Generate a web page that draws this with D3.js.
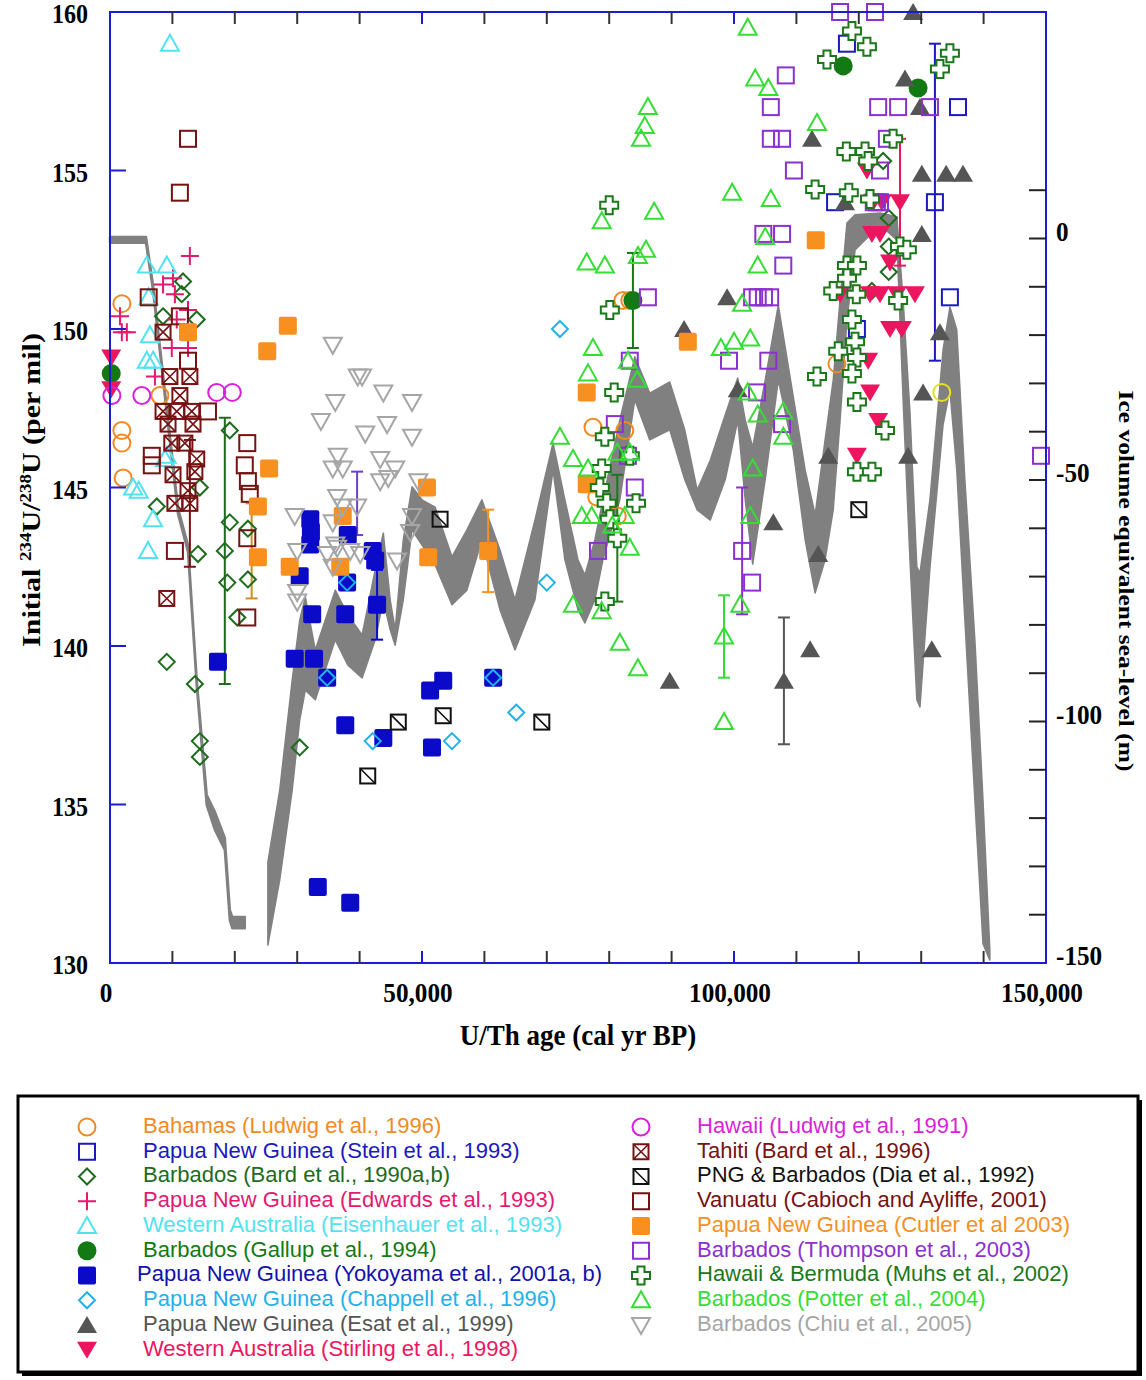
<!DOCTYPE html>
<html lang="en">
<head>
  <meta charset="UTF-8">
  <title>Initial 234U/238U vs U/Th age</title>
  <script src="https://d3js.org/d3.v7.min.js"></script>
  <style>
    body { margin: 0; background: #fff; }
    svg { display: block; }
    .tick-lab { font-family: "Liberation Serif", "Times New Roman", serif; font-weight: bold; fill: #000; }
    .ax-title { font-family: "Liberation Serif", "Times New Roman", serif; font-weight: bold; fill: #000; }
    .leg { font-family: "Liberation Sans", Arial, sans-serif; font-size: 22px; }
  </style>
</head>
<body>
<script>
// sea-level band (kyr BP, metres): upper and lower estimate
const band1Age = [0, 5.77, 6.89, 10.9, 12.5, 13.9, 15.5, 16.8, 18.4, 19.2, 19.6, 21.6];
const band1Hi  = [0.3, 0.3, -9.6, -55.8, -63.5, -91.4, -115.2, -118.7, -124.1, -139.0, -140.5, -140.5];
const band1Lo  = [-0.9, -0.9, -10.7, -57.0, -64.9, -92.6, -117.3, -122.4, -126.6, -141.1, -142.8, -142.8];

const band2Age = [25.3, 27.2, 29.2, 30.4, 31.3, 32.9, 36.1, 38.1, 40.4, 42.5, 43.8, 44.9, 45.7, 47.0, 48.4, 50.0, 52.1, 54.8,
  57.2, 59.6, 62.5, 64.9, 68.1, 71.0, 72.9, 75.0, 76.1, 77.7, 79.0, 81.7, 84.1, 86.5, 89.7, 92.1, 94.1, 96.2, 98.6,
  100.6, 101.8, 103.0, 105.0, 107.1, 109.5, 111.4, 113.0, 114.6, 115.9, 117.0, 118.1, 119.4, 123.4, 126.1, 127.1,
  128.2, 129.3, 129.8, 131.4, 133.5, 134.6, 135.7, 137.0, 138.6, 139.9, 141.0];
const band2Hi = [-129.1, -114.2, -91.4, -79.0, -74.2, -85.2, -72.8, -77.9, -82.1, -68.6, -61.0, -74.8, -81.0, -62.4, -51.4, -54.1, -55.6, -65.9,
  -60.3, -54.1, -64.5, -74.8, -58.3, -42.3, -54.1, -66.5, -69.7, -62.4, -54.1, -37.6, -24.5, -32.0, -29.7, -39.6, -52.1, -45.9, -36.5,
  -28.9, -37.6, -43.2, -29.3, -13.8, -32.8, -47.9, -57.2, -41.7, -29.3, -12.7, 3.2, 4.9, 5.3, 4.5, -12.7,
  -36.1, -68.0, -69.3, -54.1, -23.1, -14.2, -18.9, -50.0, -83.1, -116.2, -147.3];
const band2Lo = [-146.3, -132.8, -114.2, -99.7, -93.5, -95.5, -83.1, -88.3, -91.0, -83.1, -74.8, -81.0, -84.2, -74.8, -60.3, -63.5, -67.6, -75.8,
  -72.8, -62.4, -76.9, -85.2, -74.8, -47.9, -66.5, -76.9, -79.6, -74.8, -66.5, -54.1, -33.4, -41.7, -39.6, -49.9, -56.2, -58.3, -49.9,
  -37.6, -54.1, -67.4, -49.9, -29.3, -43.8, -62.4, -73.4, -66.5, -56.2, -37.6, -16.9, -2.4, 2.8, -0.3, -33.4,
  -66.5, -95.5, -97.0, -68.2, -38.6, -31.4, -47.9, -79.0, -116.2, -146.0, -149.4];

// data points: [age (yr BP), initial d234U (per mil), optional error]
const bahamas = [[1900,150.8],[1900,146.8],[1900,146.4],[2100,145.3],[8000,147.9],[82200,150.9],[83300,150.9],
  [77400,146.9],[82500,146.8],[78000,144.7],[81300,144.1],[116500,148.9]];
const bahamasExtra = [[133300,148.0]];
const stein = [[118100,159.0],[135900,157.0],[132200,154.0,5],[116200,154.0],[134600,151.0],[119700,150.0]];
const bard90 = [[11700,151.5],[11500,151.1],[8500,150.4],[13900,150.3],[19200,146.8],[14400,145.0],[7500,144.4],
  [19200,143.9],[22100,143.7],[14100,142.9],[18400,143.0,4.2],[18800,142.0],[22100,142.1],[20400,140.9],[9100,139.5],
  [13600,138.8],[14400,137.0],[14400,136.5],[30400,136.8],[123900,155.3],[124800,153.5],[124800,152.6],[124800,151.8],[122100,151.2]];
const edwards = [[12800,152.3],[10100,151.6],[8500,151.4],[10400,151.1],[12500,150.6],[10700,150.3],[1600,150.4],
  [1900,149.9],[2700,149.9],[12500,149.4],[9900,149.4],[7200,148.5]];
const eisenhauer = [[9600,159.0],[5900,152.0],[9100,152.0],[6200,151.0],[5900,149.0],[6900,149.0],[6400,149.8],
  [3700,145.0],[4600,144.9],[6900,144.0],[6100,143.0],[9100,146.0],[8800,145.9]];
const gallup = [[200,148.6],[117500,158.3],[129500,157.6],[83800,150.9,1.5]];
const yokoyama = [[17300,139.5],[29600,139.6],[32700,139.6],[32100,144.0],[32200,143.6],[32100,143.2],[30400,142.2],
  [32400,141.0],[37700,141.0],[38000,142.0],[38100,143.5],[42100,143.0],[42500,142.7],[42800,141.3,1.1],[34800,139.0],
  [37700,137.5],[43800,137.1],[51300,138.6],[53400,138.9],[51600,136.8],[61400,139.0],[33300,132.4],[38500,131.9]];
const chappell = [[34800,139.0],[38000,142.0],[42100,137.0],[54800,137.0],[61400,139.0],[65100,137.9],[70000,142.0],[72100,150.0]];
const esat = [[128700,160.0],[127400,157.9],[129800,157.0],[112500,156.0],[130100,154.9],[134000,154.9],[136700,154.9],
  [117800,154.0],[130100,153.0],[98900,151.0],[133000,149.9],[100600,148.1],[130300,148.0],[92000,150.0],[106300,143.9],
  [115100,146.0],[113500,142.9],[127900,146.0],[112200,139.9],[108000,138.9,2],[131700,139.9],[89700,138.9]];
const stirling = [[200,149.1],[200,148.1],[121300,155.0],[122300,154.0],[123700,154.0],[126600,154.0,2],[122100,153.0],
  [123400,153.0],[125000,152.1],[117000,151.1],[121800,151.1],[123400,151.1],[126100,151.1],[129000,151.1],[125000,150.0],
  [126900,150.0],[121500,149.0],[121800,148.0],[123100,147.1],[119700,146.0]];
const ludwig91 = [[300,147.9],[5100,147.9],[17100,148.0],[19600,148.0]];
const tahiti = [[8500,149.9],[9600,148.5],[12800,148.5],[11200,147.9],[8500,147.4],[10700,147.4],[13100,147.4],[9300,147.0],
  [13300,147.0],[9900,146.4],[12000,146.4],[13900,145.9],[10100,145.4],[13600,145.5],[12500,144.9],[10400,144.5],[12800,144.5,2],[9100,141.5]];
const dia = [[52900,144.0],[53400,137.8],[46200,137.6],[41300,135.9],[69200,137.6],[120000,144.3]];
const vanuatu = [[12500,156.0],[11200,154.3],[6200,151.0],[11200,150.4],[12500,149.0],[15700,147.4],[6700,146.0],[6700,145.7],
  [22000,146.4],[21600,145.7],[22100,145.2],[22400,144.8],[22000,143.4],[10400,143.0],[22000,140.9]];
const cutler = [[12500,149.9],[28500,150.1],[25200,149.3],[25500,145.6],[23700,144.4],[23700,142.8],[28800,142.5],[36900,142.5],
  [37300,144.1],[50800,145.0],[51000,142.8],[60600,143.0,1.3],[76400,148.0],[76400,145.1],[92600,149.6],[113100,152.8]];
const thompson = [[117000,160.0],[122600,160.0],[108300,158.0],[105900,157.0],[123100,157.0],[126300,157.0],[131400,157.0],
  [105900,156.0],[107700,156.0],[124500,156.0],[109600,155.0],[123400,155.0],[122400,154.0],[122900,154.0],[123400,154.0],
  [104700,153.0],[107700,153.0],[107900,152.0],[102900,151.0],[103800,151.0],[104800,151.0],[105800,151.0],[86200,151.0],
  [99200,149.0],[105500,149.0],[103700,148.0],[83300,149.0],[107700,147.0],[80900,147.0],[83000,146.0],[84100,145.0],
  [78200,143.0],[101300,143.0,2],[102900,142.0],[149200,146.0]];
const muhs = [[118900,159.4],[121300,158.9],[114900,158.5],[134600,158.7],[133000,158.2],[125500,156.0],[118000,155.6],
  [121000,155.6],[121500,155.3],[113000,154.4],[118400,154.3],[121800,154.1],[126600,152.6],[127700,152.5],[118100,152.0],
  [119700,152.0],[118100,151.6],[115900,151.2],[119600,151.1],[126300,150.9],[118900,150.3],[119400,149.6],[116700,149.3],
  [119700,149.1],[118900,148.6],[113300,148.5],[119700,147.7],[124200,146.8],[119700,145.5],[122100,145.5],
  [80000,153.9],[80100,150.6],[80800,148.0],[79300,146.6],[78800,145.6],[78500,145.0],[79600,144.5],[84300,144.5],
  [80100,144.0],[81300,143.4,2],[79300,141.4],[83300,146.0]];
const potter = [[102200,159.5],[103400,157.9],[105500,157.6],[113300,156.5],[99700,154.3],[105900,154.1],[105000,152.9],
  [103800,152.0],[101300,150.8],[97900,149.4],[100000,149.6],[102600,149.7],[102200,148.0],[103800,147.3],[107900,147.4],
  [107900,146.6],[103000,145.6],[102600,144.1],[101000,141.3],[98400,140.3,1.3],[98400,137.6],[78800,153.4],[87200,153.7],
  [76400,152.1],[79300,152.0],[85900,152.5],[84600,152.3],[77400,149.4],[76600,148.6],[83000,149.0],[84500,148.4],
  [72100,146.6],[74200,145.9],[76600,145.6],[81300,146.1],[83300,146.1],[75600,144.1],[77200,144.1],[82500,144.1],
  [80500,143.8],[83300,143.1],[74200,141.3],[78800,141.1],[81700,140.1],[84600,139.3],[86200,157.0],[85700,156.4],[85100,156.0]];
const chiu = [[35700,149.5],[39700,148.5],[40400,148.5],[36100,147.7],[43800,148.0],[48400,147.7],[40900,146.7],[44400,147.0],
  [48400,146.6],[33800,147.1],[36500,146.0],[37300,145.6],[35700,145.6],[43300,145.9],[45700,145.6],[44600,145.3],[43300,145.2],
  [49400,145.2],[39600,144.4],[36400,144.7],[37300,144.4],[35700,143.9],[48400,144.1],[48100,143.6],[36400,143.1],[38500,143.0],
  [40100,142.9],[35700,142.5],[46000,142.7],[29600,144.1],[30000,143.0],[30000,141.7],[30000,141.4],[34800,142.9],[36100,143.2]];
// loose error bars without a visible marker
const violetBars = [[39600,144.5,1.0]];
const oliveBars = [[22700,143.0,1.5]];

const xTicks = [0, 50000, 100000, 150000];
const yTicks = [130, 135, 140, 145, 150, 155, 160];
const slTicks = [0, -50, -100, -150];

const W = 1146, H = 1380;
const svg = d3.select('body').append('svg').attr('width', W).attr('height', H);

const x = d3.scaleLinear().domain([0, 150000]).range([110, 1046]);
const y = d3.scaleLinear().domain([130, 160]).range([963, 12]);
const sl = d3.scaleLinear().domain([-150, 0]).range([963, 238.5]);
const xk = d3.scaleLinear().domain([0, 150]).range([110, 1046]);

// band
const bandArea = d3.area().x(d => xk(d[0])).y0(d => sl(d[2])).y1(d => sl(d[1]));
const band1 = band1Age.map((a, i) => [a, band1Hi[i], band1Lo[i]]);
const band2 = band2Age.map((a, i) => [a, band2Hi[i], band2Lo[i]]);
svg.append('path').attr('d', bandArea(band1)).attr('fill', '#808080')
  .attr('stroke', '#808080').attr('stroke-width', 2.5).attr('stroke-linejoin', 'round');
svg.append('path').attr('d', bandArea(band2)).attr('fill', '#808080')
  .attr('stroke', '#808080').attr('stroke-width', 1.5).attr('stroke-linejoin', 'round');

// symbols
function drawSymbol(g, type, c) {
  if (type === 'circle') g.append('circle').attr('r', 8.5).attr('fill', 'none').attr('stroke', c).attr('stroke-width', 2);
  else if (type === 'square') g.append('rect').attr('x', -8).attr('y', -8).attr('width', 16).attr('height', 16)
    .attr('fill', 'none').attr('stroke', c).attr('stroke-width', 2);
  else if (type === 'diamond') g.append('path').attr('d', 'M0,-8L8,0L0,8L-8,0Z').attr('fill', 'none').attr('stroke', c).attr('stroke-width', 2);
  else if (type === 'plus') g.append('path').attr('d', 'M-9,0H9M0,-9V9').attr('stroke', c).attr('stroke-width', 2);
  else if (type === 'tri') g.append('path').attr('d', 'M0,-9L9,7L-9,7Z').attr('fill', 'none').attr('stroke', c).attr('stroke-width', 2);
  else if (type === 'dot') g.append('circle').attr('r', 9.5).attr('fill', c);
  else if (type === 'fsquare') g.append('rect').attr('x', -9).attr('y', -9).attr('width', 18).attr('height', 18).attr('rx', 2).attr('fill', c);
  else if (type === 'ftri') g.append('path').attr('d', 'M0,-9L10,8L-10,8Z').attr('fill', c);
  else if (type === 'ftridown') g.append('path').attr('d', 'M-10,-8L10,-8L0,9Z').attr('fill', c);
  else if (type === 'squareX') {
    g.append('rect').attr('x', -7.5).attr('y', -7.5).attr('width', 15).attr('height', 15).attr('fill', 'none').attr('stroke', c).attr('stroke-width', 2);
    g.append('path').attr('d', 'M-7.5,-7.5L7.5,7.5M7.5,-7.5L-7.5,7.5').attr('stroke', c).attr('stroke-width', 1.6);
  } else if (type === 'squareSlash') {
    g.append('rect').attr('x', -7.5).attr('y', -7.5).attr('width', 15).attr('height', 15).attr('fill', 'none').attr('stroke', c).attr('stroke-width', 2);
    g.append('path').attr('d', 'M-7.5,-7.5L7.5,7.5').attr('stroke', c).attr('stroke-width', 1.6);
  } else if (type === 'cross') g.append('path')
    .attr('d', 'M-3.5,-9H3.5V-3.5H9V3.5H3.5V9H-3.5V3.5H-9V-3.5H-3.5Z')
    .attr('fill', '#fff').attr('stroke', c).attr('stroke-width', 2);
  else if (type === 'tridown') g.append('path').attr('d', 'M-9,-7L9,-7L0,9Z').attr('fill', 'none').attr('stroke', c).attr('stroke-width', 2);
}

const series = [
  { name: 'Bahamas (Ludwig et al., 1996)', data: bahamas, sym: 'circle', color: '#f28a22' },
  { name: 'Papua New Guinea (Stein et al., 1993)', data: stein, sym: 'square', color: '#1a1ac0' },
  { name: 'Barbados (Bard et al., 1990a,b)', data: bard90, sym: 'diamond', color: '#1d6b1d' },
  { name: 'Papua New Guinea (Edwards et al., 1993)', data: edwards, sym: 'plus', color: '#e5196f' },
  { name: 'Western Australia (Eisenhauer et al., 1993)', data: eisenhauer, sym: 'tri', color: '#52e2f0' },
  { name: 'Barbados (Gallup et al., 1994)', data: gallup, sym: 'dot', color: '#137a13' },
  { name: 'Papua New Guinea (Yokoyama et al., 2001a, b)', data: yokoyama, sym: 'fsquare', color: '#0a0ac8', textColor: '#1212aa', dx: -6 },
  { name: 'Papua New Guinea (Chappell et al., 1996)', data: chappell, sym: 'diamond', color: '#22b2ea' },
  { name: 'Papua New Guinea (Esat et al., 1999)', data: esat, sym: 'ftri', color: '#555555' },
  { name: 'Western Australia (Stirling et al., 1998)', data: stirling, sym: 'ftridown', color: '#ee1560' },
  { name: 'Hawaii (Ludwig et al., 1991)', data: ludwig91, sym: 'circle', color: '#da1fda' },
  { name: 'Tahiti (Bard et al., 1996)', data: tahiti, sym: 'squareX', color: '#761212' },
  { name: 'PNG & Barbados (Dia et al., 1992)', data: dia, sym: 'squareSlash', color: '#111111' },
  { name: 'Vanuatu (Cabioch and Ayliffe, 2001)', data: vanuatu, sym: 'square', color: '#761212' },
  { name: 'Papua New Guinea (Cutler et al 2003)', data: cutler, sym: 'fsquare', color: '#f7901e' },
  { name: 'Barbados (Thompson et al., 2003)', data: thompson, sym: 'square', color: '#8c30cf' },
  { name: 'Hawaii & Bermuda (Muhs et al., 2002)', data: muhs, sym: 'cross', color: '#1a781a' },
  { name: 'Barbados (Potter et al., 2004)', data: potter, sym: 'tri', color: '#35dd35' },
  { name: 'Barbados (Chiu et al., 2005)', data: chiu, sym: 'tridown', color: '#a6a6a6' }
];

// error bars
function errBar(age, v, e, c) {
  const g = svg.append('g').attr('stroke', c).attr('stroke-width', 2);
  const cx = x(age);
  g.append('line').attr('x1', cx).attr('x2', cx).attr('y1', y(v - e)).attr('y2', y(v + e));
  g.append('line').attr('x1', cx - 6).attr('x2', cx + 6).attr('y1', y(v - e)).attr('y2', y(v - e));
  g.append('line').attr('x1', cx - 6).attr('x2', cx + 6).attr('y1', y(v + e)).attr('y2', y(v + e));
}
series.forEach(s => s.data.filter(d => d.length > 2).forEach(d => errBar(d[0], d[1], d[2], s.color)));
violetBars.forEach(d => errBar(d[0], d[1], d[2], '#6a40cc'));
oliveBars.forEach(d => errBar(d[0], d[1], d[2], '#c8901e'));

// points
const pts = svg.append('g');
series.forEach(s => {
  s.data.forEach(d => {
    const g = pts.append('g').attr('transform', `translate(${x(d[0])},${y(d[1])})`);
    drawSymbol(g, s.sym, s.color);
  });
});
bahamasExtra.forEach(d => {
  const g = pts.append('g').attr('transform', `translate(${x(d[0])},${y(d[1])})`);
  drawSymbol(g, 'circle', '#e8e020');
});

// frame and ticks
const blue = '#1c1cd2';
svg.append('rect').attr('x', 110).attr('y', 12).attr('width', 936).attr('height', 951)
  .attr('fill', 'none').attr('stroke', blue).attr('stroke-width', 2);
d3.range(10000, 150000, 10000).forEach(t => {
  const c = (t % 50000 === 0) ? blue : '#333';
  svg.append('line').attr('x1', x(t)).attr('x2', x(t)).attr('y1', 12).attr('y2', 24).attr('stroke', c).attr('stroke-width', 2);
  svg.append('line').attr('x1', x(t)).attr('x2', x(t)).attr('y1', 963).attr('y2', 951).attr('stroke', c).attr('stroke-width', 2);
});
[135, 140, 145, 150, 155].forEach(t => {
  svg.append('line').attr('x1', 110).attr('x2', 126).attr('y1', y(t)).attr('y2', y(t)).attr('stroke', blue).attr('stroke-width', 2);
});
d3.range(-140, 20, 10).forEach(t => {
  svg.append('line').attr('x1', 1029).attr('x2', 1046).attr('y1', sl(t)).attr('y2', sl(t)).attr('stroke', '#222').attr('stroke-width', 2);
});

// tick labels (condensed bold serif)
function label(px, py, txt, size, anchor, sx) {
  svg.append('text').attr('class', 'tick-lab')
    .attr('transform', `translate(${px},${py}) scale(${sx},1)`)
    .attr('text-anchor', anchor).attr('dominant-baseline', 'middle')
    .style('font-size', size + 'px').text(txt);
}
yTicks.forEach(t => label(88, y(t) + 5, t, 28, 'end', 0.86));
xTicks.forEach(t => label(x(t) - 4, 996, d3.format(',')(t), 28, 'middle', 0.9));
slTicks.forEach(t => label(1056, sl(t) - 4, t, 28, 'start', 0.9));

// axis titles
svg.append('text').attr('class', 'ax-title').attr('transform', 'translate(578,1038) scale(0.9,1)')
  .attr('text-anchor', 'middle').attr('dominant-baseline', 'middle').style('font-size', '30px').text('U/Th age (cal yr BP)');

const yl = svg.append('text').attr('class', 'ax-title')
  .attr('transform', 'translate(40,490) rotate(-90) scale(1,0.85)').attr('text-anchor', 'middle').style('font-size', '30px');
yl.append('tspan').text('Initial ');
yl.append('tspan').attr('baseline-shift', 'super').style('font-size', '19px').text('234');
yl.append('tspan').text('U/');
yl.append('tspan').attr('baseline-shift', 'super').style('font-size', '19px').text('238');
yl.append('tspan').text('U (per mil)');

svg.append('text').attr('class', 'ax-title')
  .attr('transform', 'translate(1119,581) rotate(90) scale(1,0.85)').attr('text-anchor', 'middle').style('font-size', '25.5px')
  .text('Ice volume equivalent sea-level (m)');

// legend
svg.append('rect').attr('x', 22).attr('y', 1100).attr('width', 1120).attr('height', 276).attr('fill', '#000');
svg.append('rect').attr('x', 18).attr('y', 1096).attr('width', 1120).attr('height', 276)
  .attr('fill', '#fff').attr('stroke', '#000').attr('stroke-width', 3);
series.forEach((s, i) => {
  const col = i < 10 ? 0 : 1;
  const row = i < 10 ? i : i - 10;
  const sx = col === 0 ? 87 : 641;
  const ty = 1127 + row * 24.75;
  const g = svg.append('g').attr('transform', `translate(${sx},${ty})`);
  drawSymbol(g, s.sym, s.color);
  svg.append('text').attr('class', 'leg').attr('x', sx + 56 + (s.dx || 0)).attr('y', ty)
    .attr('dominant-baseline', 'middle').attr('fill', s.textColor || s.color).text(s.name);
});
</script>
</body>
</html>
